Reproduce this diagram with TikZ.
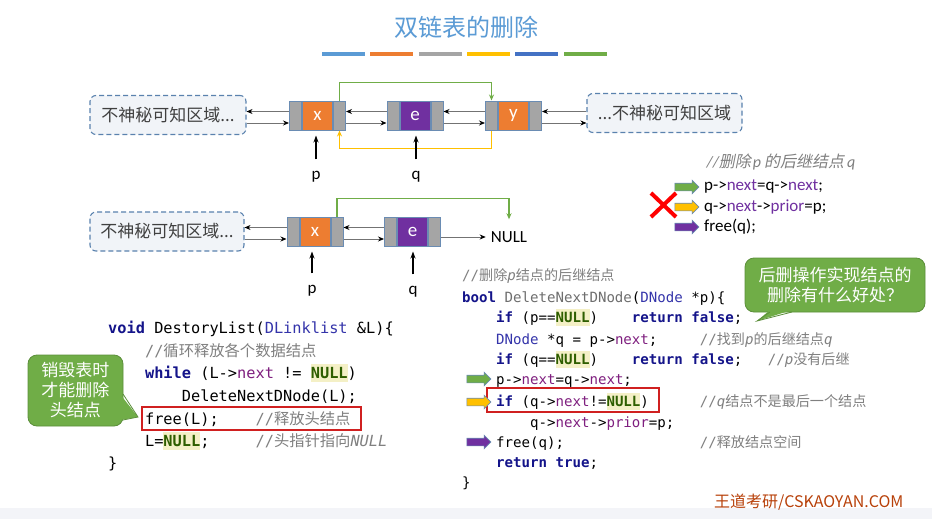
\documentclass[tikz,border=0pt]{standalone}
\usepackage{fontspec}
\setmainfont{Carlito}
\setmonofont{DejaVu Sans Mono}
\newfontfamily\cjk{Noto Sans CJK SC}
\newfontfamily\cjkit[FakeSlant=0.2]{Noto Sans CJK SC}
\usetikzlibrary{positioning,arrows.meta,shapes.arrows}

\definecolor{titleblue}{HTML}{5B9BD5}
\definecolor{dorange}{HTML}{ED7D31}
\definecolor{dgray}{HTML}{A5A5A5}
\definecolor{dyellow}{HTML}{FFC000}
\definecolor{dblue}{HTML}{4472C4}
\definecolor{dgreen}{HTML}{70AD47}
\definecolor{dpurple}{HTML}{7030A0}
\definecolor{cellline}{HTML}{6A8CB3}
\definecolor{regionline}{HTML}{5A82AE}
\definecolor{regionfill}{HTML}{F1F4F8}
\definecolor{kwblue}{HTML}{14148A}
\definecolor{tyblue}{HTML}{3434AA}
\definecolor{fldpurple}{HTML}{7F1F7F}
\definecolor{nullgreen}{HTML}{2E5E00}
\definecolor{nullbg}{HTML}{F4F0C6}
\definecolor{cmtgray}{HTML}{808080}
\definecolor{fngray}{HTML}{6E6E6E}
\definecolor{boxred}{HTML}{D02020}
\definecolor{bubbleline}{HTML}{5B8E3A}
\definecolor{wmred}{HTML}{B8410A}
\definecolor{stripgray}{HTML}{F3F4F8}

\newcommand\kw[1]{{\bfseries\color{kwblue}#1}}
\newcommand\ty[1]{{\color{tyblue}#1}}
\newcommand\fld[1]{{\color{fldpurple}#1}}
\newcommand\cmt[1]{{\color{cmtgray}#1}}
\newcommand\nullhl{{\setlength{\fboxsep}{0pt}\colorbox{nullbg}{\rule[-0.25em]{0pt}{1.15em}\bfseries\color{nullgreen}NULL}}}

\begin{document}
\begin{tikzpicture}[
  x=1pt, y=-1pt,
  cell/.style={draw=cellline, line width=1pt, fill=dgray, minimum width=12pt, minimum height=29pt, inner sep=0pt},
  data/.style={cell, minimum width=30pt, text=white, font=\fontsize{19}{19}\selectfont},
  region/.style={draw=regionline, dash pattern=on 5pt off 3pt, line width=1.1pt, rounded corners=6pt, fill=regionfill,
    minimum height=39pt, text=black!75, font=\cjk\fontsize{17}{17}\selectfont, inner sep=0pt},
  link/.style={draw=black!55, line width=0.8pt, -{Stealth[length=6pt,width=5pt,color=black]}},
  hop/.style={draw=#1, line width=1.5pt, -{Stealth[length=6pt,width=5pt]}},
  lbl/.style={inner sep=1pt, font=\fontsize{17}{17}\selectfont},
  ptr/.style={line width=1.1pt, -{Stealth[length=7pt,width=5pt]}, shorten <=11pt, shorten >=5pt},
  legend/.style={anchor=west, inner sep=0pt, font=\fontsize{17}{17}\selectfont},
  blk/.style={single arrow, draw=cellline, line width=0.6pt, minimum height=24pt,
    single arrow head extend=3pt, inner sep=3.5pt},
  codea/.style={anchor=base west, inner sep=0pt, font=\ttfamily\fontsize{15.3}{18}\selectfont},
  codeb/.style={anchor=base west, inner sep=0pt, font=\ttfamily\fontsize{14.1}{17}\selectfont},
  redbox/.style={draw=boxred, line width=1.5pt},
  bubble/.style={fill=dgreen, draw=bubbleline, line width=0.8pt, rounded corners=9pt, align=center,
    text=white, font=\cjk\fontsize{17}{20}\selectfont, inner sep=0pt},
]
  \useasboundingbox (0,0) rectangle (932,519);
  \fill[white] (0,0) rectangle (932,519);
  \fill[stripgray] (0,508) rectangle (932,519);

  % title
  \node[text=titleblue, font=\cjk\fontsize{24}{24}\selectfont] (title) at (466,27) {双链表的删除};
  \foreach \c [count=\i from 0] in {titleblue,dorange,dgray,dyellow,dblue,dgreen}
    \fill[\c] (322+\i*48.3,52) rectangle ++(43,4);

  % first list
  \node[region, minimum width=156pt] (far1) at (168,115) {不神秘可知区域...};
  \node[data, fill=dorange] (x1) at (317.5,115.5) {x};
  \node[cell, left=0pt of x1] (x1l) {};
  \node[cell, right=0pt of x1] (x1r) {};
  \node[data, fill=dpurple] (e1) at (415,115.5) {e};
  \node[cell, left=0pt of e1] (e1l) {};
  \node[cell, right=0pt of e1] (e1r) {};
  \node[data, fill=dorange] (y1) at (513.5,115.5) {y};
  \node[cell, left=0pt of y1] (y1l) {};
  \node[cell, right=0pt of y1] (y1r) {};
  \node[region, minimum width=155pt] (far2) at (664.5,113) {...不神秘可知区域};

  \draw[link] ([yshift=4pt]x1l.west) -- ([yshift=4pt]x1l.west -| far1.east);
  \draw[link] ([yshift=-7.5pt]x1l.west -| far1.east) -- ([yshift=-7.5pt]x1l.west);
  \draw[link] ([yshift=4pt]e1l.west) -- ([yshift=4pt]x1r.east);
  \draw[link] ([yshift=-7.5pt]x1r.east) -- ([yshift=-7.5pt]e1l.west);
  \draw[link] ([yshift=4pt]y1l.west) -- ([yshift=4pt]e1r.east);
  \draw[link] ([yshift=-7.5pt]e1r.east) -- ([yshift=-7.5pt]y1l.west);
  \draw[link] ([yshift=4pt]y1r.east -| far2.west) -- ([yshift=4pt]y1r.east);
  \draw[link] ([yshift=-7.5pt]y1r.east) -- ([yshift=-7.5pt]y1r.east -| far2.west);

  \draw[hop=dgreen] (x1r.north) -- ++(0,-18) -| (y1l.north);
  \draw[hop=dyellow] (y1l.south) -- ++(0,18) -| (x1r.south);

  \node[lbl] (p1) at (316,177) {p};
  \node[lbl] (q1) at (416,177) {q};
  \draw[ptr] (p1.north) -- (p1.north |- x1.south);
  \draw[ptr] (q1.north) -- (q1.north |- e1.south);

  % second list
  \node[region, minimum width=154pt] (far3) at (167,231.5) {不神秘可知区域...};
  \node[data, fill=dorange] (x2) at (315,231.5) {x};
  \node[cell, left=0pt of x2] (x2l) {};
  \node[cell, right=0pt of x2] (x2r) {};
  \node[data, fill=dpurple] (e2) at (412.5,231.5) {e};
  \node[cell, left=0pt of e2] (e2l) {};
  \node[cell, right=0pt of e2] (e2r) {};
  \node[lbl] (nil) at (509,237) {NULL};

  \draw[link] ([yshift=4pt]x2l.west) -- ([yshift=4pt]x2l.west -| far3.east);
  \draw[link] ([yshift=-7.5pt]x2l.west -| far3.east) -- ([yshift=-7.5pt]x2l.west);
  \draw[link] ([yshift=4pt]e2l.west) -- ([yshift=4pt]x2r.east);
  \draw[link] ([yshift=-7.5pt]x2r.east) -- ([yshift=-7.5pt]e2l.west);
  \draw[link, shorten >=4pt] (nil.west -| e2r.east) -- (nil.west);
  \draw[hop=dgreen, shorten >=11pt] (x2r.north) -- ++(0,-18) -| (nil.north);

  \node[lbl] (p2) at (312,291) {p};
  \node[lbl] (q2) at (413,292) {q};
  \draw[ptr] (p2.north) -- (p2.north |- x2.south);
  \draw[ptr] (q2.north) -- (q2.north |- e2.south);

  % steps
  \node[text=cmtgray, font=\itshape\fontsize{16}{16}\selectfont] (cap) at (781,162) {//{\cjkit 删除}\kern2pt p\kern3pt{\cjkit 的后继结点}\kern3pt q};
  \node[legend] (s1) at (704,186) {p->\textcolor{dpurple}{next}=q->\textcolor{dpurple}{next};};
  \node[legend] (s2) at (704,207) {q->\textcolor{dpurple}{next}->\textcolor{dpurple}{prior}=p;};
  \node[legend] (s3) at (704,227) {free(q);};
  \node[blk, fill=dgreen] (a1) at (685,187) {};
  \node[blk, fill=dyellow] (a2) at (685,207) {};
  \node[blk, fill=dpurple] (a3) at (685,227) {};
  \draw[red, line width=4pt] (651,193) -- (676,217) (676,193) -- (651,217);

  % DestoryList
  \node[codea] (dl1) at (108,333) {\kw{void} DestoryList(\ty{DLinklist} \&L)\{};
  \node[codea] (dl2) at (108,356) {~~~~\cmt{//{\cjk 循环释放各个数据结点}}};
  \node[codea] (dl3) at (108,378) {~~~~\kw{while} (L->\fld{next} != \nullhl)};
  \node[codea] (dl4) at (108,401) {~~~~~~~~DeleteNextDNode(L);};
  \node[codea] (dl5) at (108,424) {~~~~free(L);~~~~\cmt{//{\cjk 释放头结点}}};
  \node[codea] (dl6) at (108,446) {~~~~L=\nullhl;~~~~~\cmt{//{\cjk 头指针指向}\textit{NULL}}};
  \node[codea] (dl7) at (108,468) {\}};
  \draw[redbox] (142,407) rectangle (361,430);

  % DeleteNextDNode
  \node[codeb] (dn0) at (462,280) {\cmt{//{\cjk 删除}\textit{p}{\cjk 结点的后继结点}}};
  \node[codeb] (dn1) at (462,302) {\kw{bool} {\color{fngray}DeleteNextDNode}(\ty{DNode} *p)\{};
  \node[codeb] (dn2) at (462,322) {~~~~\kw{if} (p==\nullhl)~~~~\kw{return} \kw{false};};
  \node[codeb] (dn3) at (462,344) {~~~~\ty{DNode} *q = p->\fld{next};~~~~~\cmt{//{\cjk 找到}\textit{p}{\cjk 的后继结点}\textit{q}}};
  \node[codeb] (dn4) at (462,364) {~~~~\kw{if} (q==\nullhl)~~~~\kw{return} \kw{false};~~~\cmt{//\textit{p}{\cjk 没有后继}}};
  \node[codeb] (dn5) at (462,384) {~~~~p->\fld{next}=q->\fld{next};};
  \node[codeb] (dn6) at (462,406) {~~~~\kw{if} (q->\fld{next}!=\nullhl)~~~~~~\cmt{//\textit{q}{\cjk 结点不是最后一个结点}}};
  \node[codeb] (dn7) at (462,427) {~~~~~~~~q->\fld{next}->\fld{prior}=p;};
  \node[codeb] (dn8) at (462,447) {~~~~free(q);~~~~~~~~~~~~~~~~\cmt{//{\cjk 释放结点空间}}};
  \node[codeb] (dn9) at (462,467) {~~~~\kw{return} \kw{true};};
  \node[codeb] (dn10) at (462,487) {\}};
  \draw[redbox] (487,388) rectangle (659,412);
  \node[blk, fill=dgreen] (c1) at (477,379) {};
  \node[blk, fill=dyellow] (c2) at (477,402) {};
  \node[blk, fill=dpurple] (c3) at (477,442) {};

  % callouts
  \node[bubble, minimum width=95pt, minimum height=71pt] (tipl) at (75.5,390.5) {销毁表时\\才能删除\\头结点};
  \fill[dgreen] (120,394) -- (138,417) -- (120,420) -- cycle;
  \draw[bubbleline, line width=0.8pt] (123,394) -- (138,417) -- (123,420);
  \node[bubble, minimum width=180pt, minimum height=54pt] (tipr) at (835,285) {后删操作实现结点的\\删除有什么好处？};
  \fill[dgreen] (770,310) -- (757,321) -- (792,310) -- cycle;
  \draw[bubbleline, line width=0.8pt] (770,312) -- (757,321) -- (792,312);

  \node[anchor=west, inner sep=0pt, text=wmred, font=\cjk\fontsize{16}{16}\selectfont] (wm) at (714,502) {王道考研/CSKAOYAN.COM};
\end{tikzpicture}
\end{document}
